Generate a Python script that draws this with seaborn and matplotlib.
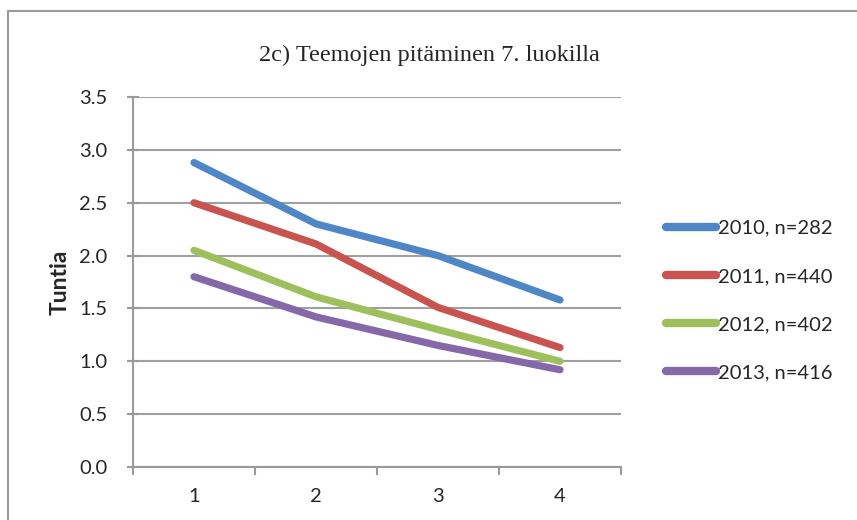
import pandas as pd
import numpy as np
import seaborn as sns
import matplotlib
matplotlib.use("Agg")
import matplotlib.pyplot as plt
from matplotlib.patches import Rectangle

# values
categories = [1, 2, 3, 4]
s2010 = [2.88, 2.30, 2.00, 1.58]
s2011 = [2.50, 2.11, 1.51, 1.13]
s2012 = [2.05, 1.61, 1.30, 1.00]
s2013 = [1.80, 1.42, 1.15, 0.92]
labels = ["2010, n=282", "2011, n=440", "2012, n=402", "2013, n=416"]
colors = ["#4F86C6", "#C9544F", "#9EC05C", "#8468A8"]
title = "2c) Teemojen pitäminen 7. luokilla"
ylabel = "Tuntia"
yticks = [0.0, 0.5, 1.0, 1.5, 2.0, 2.5, 3.0, 3.5]

rows = []
for lab, vals in zip(labels, [s2010, s2011, s2012, s2013]):
    for c, v in zip(categories, vals):
        rows.append({"x": c, "y": v, "serie": lab})
df = pd.DataFrame(rows)

sns.set_style("white")
plt.rcParams['font.family'] = ['Lato', 'DejaVu Sans']

fig = plt.figure(figsize=(8.57, 5.2), dpi=100)
ax = fig.add_axes([0.1552, 0.1019, 0.5694, 0.7115])

# outer chart frame (cut by the image edge on right/bottom)
fig.patches.append(Rectangle((8 / 857, -0.1), 1.2, 1.1 - 11 / 520,
                             transform=fig.transFigure, fill=False,
                             edgecolor="#9a9a9a", linewidth=1.5))

sns.lineplot(data=df, x="x", y="y", hue="serie", palette=colors, ax=ax,
             linewidth=5.2, solid_capstyle="round", legend=True)

ax.set_xlim(0.5, 4.5)
ax.set_ylim(0, 3.5)
ax.set_yticks(yticks)
ax.set_yticklabels([f"{t:.1f}" for t in yticks])
ax.set_xticks(categories)
ax.set_xticks([0.5, 1.5, 2.5, 3.5, 4.5], minor=True)
ax.tick_params(axis="x", which="major", bottom=True, length=0, labelsize=14.5, pad=15)
ax.tick_params(axis="x", which="minor", bottom=True, length=6, color="#9a9a9a", width=1.5, direction="out")
ax.tick_params(axis="y", left=True, length=9, color="#9a9a9a", width=1.5, direction="inout",
               labelsize=14.5, pad=14)
ax.yaxis.grid(True, color="#a0a0a0", linewidth=1.5)
ax.set_axisbelow(True)
for sp in ["top", "right"]:
    ax.spines[sp].set_visible(False)
for sp in ["left", "bottom"]:
    ax.spines[sp].set_color("#9a9a9a")
    ax.spines[sp].set_linewidth(1.5)

ax.set_xlabel("")
ax.set_ylabel(ylabel, fontsize=16.5, fontweight="bold", labelpad=6)

fig.text(429 / 857, 1 - 55 / 520, title, ha="center", va="center",
         fontsize=17.5, family=["Liberation Serif"])

leg = ax.legend(loc="center left", bbox_to_anchor=(1.055, 0.45), frameon=False,
                fontsize=14.5, handlelength=2.5, handletextpad=0.1, labelspacing=1.55)
for h in leg.get_lines():
    h.set_linewidth(6)
    h.set_solid_capstyle("round")

fig.savefig("out.png", dpi=100)
